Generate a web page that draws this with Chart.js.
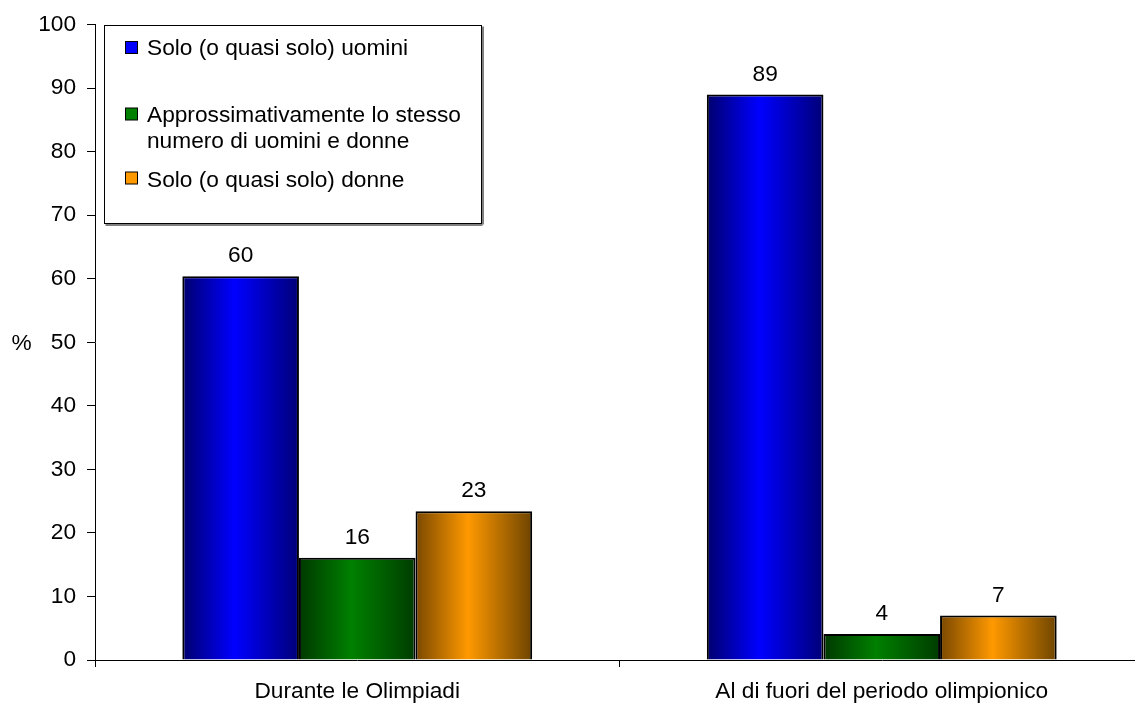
<!DOCTYPE html>
<html>
<head>
<meta charset="utf-8">
<script src="https://cdn.jsdelivr.net/npm/chart.js@4/dist/chart.umd.min.js"></script>
<style>
html,body{margin:0;padding:0;background:#fff;overflow:hidden;}
#wrap{width:1146px;height:706px;}
</style>
</head>
<body>
<div id="wrap"><canvas id="c" width="1146" height="706"></canvas></div>
<script>
const categories = ["Durante le Olimpiadi", "Al di fuori del periodo olimpionico"];
const seriesNames = ["Solo (o quasi solo) uomini", "Approssimativamente lo stesso numero di uomini e donne", "Solo (o quasi solo) donne"];
const legendLines = [["Solo (o quasi solo) uomini"], ["Approssimativamente lo stesso", "numero di uomini e donne"], ["Solo (o quasi solo) donne"]];
const uomini = [60.4, 89.0];
const stesso = [16.1, 4.1];
const donne = [23.4, 7.0];
const yTicks = [0, 10, 20, 30, 40, 50, 60, 70, 80, 90, 100];

const FONT = "'Liberation Sans', Arial, sans-serif";
const FS = 22.7;
const CAT_PCT = 0.667;
const palettes = [
  {dark1: '#00006e', bright: '#0000ff', dark2: '#000078', flat: '#0000ff'},
  {dark1: '#003800', bright: '#008000', dark2: '#003c00', flat: '#008000'},
  {dark1: '#7a4800', bright: '#ff9900', dark2: '#6e4400', flat: '#ff9900'}
];

function gradFill(c) {
  const p = palettes[c.datasetIndex];
  const chart = c.chart;
  const xs = chart.scales && chart.scales.x;
  if (!xs || c.dataIndex === undefined || !chart.chartArea) return p.flat;
  const n = categories.length;
  const catW = (xs.right - xs.left) / n;
  const bw = catW * CAT_PCT / 3;
  const center = xs.getPixelForValue(c.dataIndex);
  const left = center - catW * CAT_PCT / 2 + c.datasetIndex * bw;
  const g = chart.ctx.createLinearGradient(left, 0, left + bw, 0);
  g.addColorStop(0, p.dark1);
  g.addColorStop(0.45, p.bright);
  g.addColorStop(1, p.dark2);
  return g;
}

const seriesData = [uomini, stesso, donne];
const datasets = seriesData.map((d, i) => ({
  label: seriesNames[i],
  data: d,
  backgroundColor: gradFill,
  borderColor: '#000',
  borderWidth: 2,
  barPercentage: 1,
  categoryPercentage: CAT_PCT
}));

const extras = {
  id: 'extras',
  afterDatasetsDraw(chart) {
    const ctx = chart.ctx;
    ctx.save();
    ctx.fillStyle = '#000';
    ctx.font = FS + 'px ' + FONT;
    ctx.textAlign = 'center';
    ctx.textBaseline = 'alphabetic';
    chart.data.datasets.forEach((ds, di) => {
      const meta = chart.getDatasetMeta(di);
      meta.data.forEach((el, i) => {
        ctx.fillText(String(Math.round(ds.data[i])), el.x, el.y - 14);
      });
    });
    const ys = chart.scales.y;
    ctx.fillText('%', 21.5, (ys.top + ys.bottom) / 2 + 8);
    ctx.restore();
  },
  afterDraw(chart) {
    const ctx = chart.ctx;
    ctx.save();
    const bx = 104.5, by = 25.5, bw = 377, bh = 198;
    ctx.fillStyle = '#808080';
    ctx.fillRect(bx + 1, by + bh + 0.5, bw, 2);
    ctx.fillRect(bx + bw + 0.5, by + 1, 2, bh);
    ctx.fillStyle = '#fff';
    ctx.fillRect(bx, by, bw, bh);
    ctx.strokeStyle = '#000';
    ctx.lineWidth = 1;
    ctx.strokeRect(bx, by, bw, bh);
    const markerY = [41, 107.5, 171.5];
    const baselines = [[55], [121.5, 147.5], [186.5]];
    ctx.font = FS + 'px ' + FONT;
    ctx.textAlign = 'left';
    ctx.textBaseline = 'alphabetic';
    chart.data.datasets.forEach((ds, i) => {
      ctx.fillStyle = palettes[i].flat;
      ctx.fillRect(125.5, markerY[i] + 0.5, 12, 12);
      ctx.strokeStyle = '#000';
      ctx.strokeRect(125.5, markerY[i] + 0.5, 12, 12);
      ctx.fillStyle = '#000';
      legendLines[i].forEach((t, k) => ctx.fillText(t, 147, baselines[i][k]));
    });
    ctx.restore();
  }
};

new Chart(document.getElementById('c'), {
  type: 'bar',
  data: { labels: categories, datasets },
  plugins: [extras],
  options: {
    responsive: false,
    animation: false,
    layout: { padding: { top: 22, right: 2, left: 0, bottom: 0 } },
    plugins: { legend: { display: false }, tooltip: { enabled: false } },
    scales: {
      x: {
        grid: { offset: true, drawOnChartArea: false, drawTicks: true, tickLength: 7, color: '#000' },
        border: { display: true, color: '#000', width: 1 },
        ticks: { color: '#000', font: { family: FONT, size: FS }, padding: 11, maxRotation: 0, autoSkip: false },
        afterFit(s) { s.height = 46; }
      },
      y: {
        min: 0, max: 100,
        afterBuildTicks(s) { s.ticks = yTicks.map(v => ({ value: v })); },
        grid: { drawOnChartArea: false, drawTicks: true, tickLength: 8, color: '#000' },
        border: { display: true, color: '#000', width: 1 },
        ticks: { color: '#000', font: { family: FONT, size: FS }, padding: 11 },
        afterFit(s) { s.width = 95; }
      }
    }
  }
});
</script>
</body>
</html>
